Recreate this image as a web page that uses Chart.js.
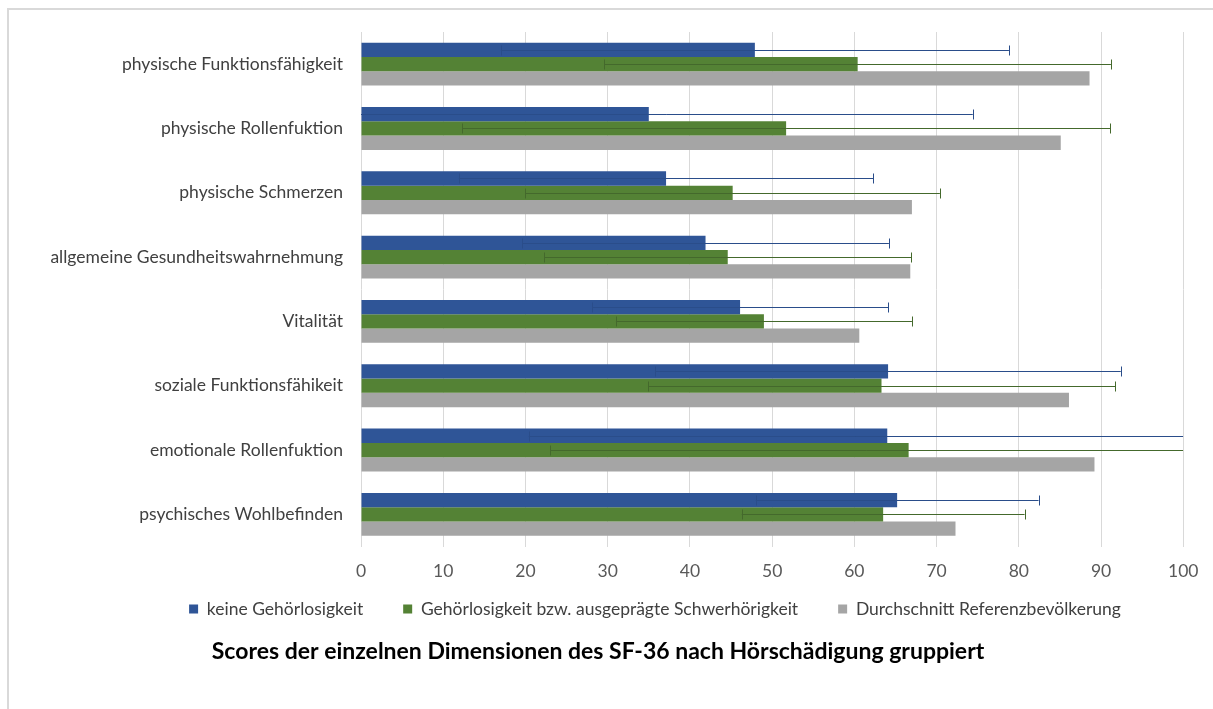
<!DOCTYPE html>
<html><head><meta charset="utf-8">
<script src="https://cdn.jsdelivr.net/npm/chart.js@4.4.0/dist/chart.umd.min.js"></script>
<style>
html,body{margin:0;padding:0;background:#fff;overflow:hidden;width:1213px;height:709px;}
#frame{position:absolute;left:7px;top:8px;width:1400px;height:900px;border-left:2px solid #d9d9d9;border-top:2px solid #d9d9d9;}
#wrap{position:absolute;left:0;top:0;width:1213px;height:709px;}
</style></head><body>
<div id="frame"></div>
<div id="wrap"><canvas id="c" width="1213" height="709"></canvas></div>
<script>
const categories = [
  'physische Funktionsfähigkeit',
  'physische Rollenfuktion',
  'physische Schmerzen',
  'allgemeine Gesundheitswahrnehmung',
  'Vitalität',
  'soziale Funktionsfähikeit',
  'emotionale Rollenfuktion',
  'psychisches Wohlbefinden'
];
const seriesNames = [
  'keine Gehörlosigkeit',
  'Gehörlosigkeit bzw. ausgeprägte Schwerhörigkeit',
  'Durchschnitt Referenzbevölkerung'
];
const keineValues   = [47.9, 35.0, 37.1, 41.9, 46.1, 64.1, 64.0, 65.2];
const keineSD       = [30.9, 39.4, 25.2, 22.3, 18.0, 28.3, 43.6, 17.2];
const gehoerValues  = [60.4, 51.7, 45.2, 44.6, 49.0, 63.3, 66.6, 63.5];
const gehoerSD      = [30.8, 39.4, 25.2, 22.3, 18.0, 28.4, 43.6, 17.2];
const referenzValues = [88.6, 85.1, 67.0, 66.8, 60.6, 86.1, 89.2, 72.3];
const xTicks = [0, 10, 20, 30, 40, 50, 60, 70, 80, 90, 100];
const titleText = 'Scores der einzelnen Dimensionen des SF-36 nach Hörschädigung gruppiert';

const FONT = 'Lato';

const errorBars = {
  id: 'errorBars',
  afterDatasetsDraw(chart) {
    const {ctx, chartArea, scales} = chart;
    const x = scales.x;
    ctx.save();
    ctx.beginPath();
    ctx.rect(chartArea.left, chartArea.top, chartArea.width, chartArea.height);
    ctx.clip();
    chart.data.datasets.forEach((ds, i) => {
      if (!ds.errors) return;
      const meta = chart.getDatasetMeta(i);
      if (meta.hidden) return;
      ctx.strokeStyle = ds.errorColor;
      ctx.lineWidth = 1;
      meta.data.forEach((bar, j) => {
        const v = ds.data[j], e = ds.errors[j];
        const lo = v - e, hi = v + e;
        const xLo = x.getPixelForValue(Math.max(lo, x.min));
        const xHi = x.getPixelForValue(Math.min(hi, x.max));
        const y = Math.round(bar.y) + 0.5;
        const cap = 5;
        ctx.beginPath();
        ctx.moveTo(xLo, y); ctx.lineTo(xHi, y);
        if (lo >= x.min) { const px = Math.round(xLo) + 0.5; ctx.moveTo(px, y - cap); ctx.lineTo(px, y + cap); }
        if (hi <= x.max) { const px = Math.round(xHi) + 0.5; ctx.moveTo(px, y - cap); ctx.lineTo(px, y + cap); }
        ctx.stroke();
      });
    });
    ctx.restore();
  }
};

// move the legend block to where the original chart has it
const legendShift = {
  id: 'legendShift',
  afterLayout(chart) {
    const l = chart.legend;
    if (l) { l.left += 57; l.right += 57; l.top -= 22.25; l.bottom -= 22.25; }
  }
};

function build() {
  new Chart(document.getElementById('c'), {
    type: 'bar',
    data: {
      labels: categories,
      datasets: [
        { label: seriesNames[0], data: keineValues, errors: keineSD, backgroundColor: '#2F5597', errorColor: '#2A4D8A' },
        { label: seriesNames[1], data: gehoerValues, errors: gehoerSD, backgroundColor: '#548235', errorColor: '#44692C' },
        { label: seriesNames[2], data: referenzValues, backgroundColor: '#A5A5A5' }
      ]
    },
    plugins: [errorBars, legendShift],
    options: {
      indexAxis: 'y',
      responsive: false,
      animation: false,
      categoryPercentage: 0.667,
      barPercentage: 1.0,
      layout: { padding: { top: 32, left: 5, right: 22, bottom: 43.2 } },
      scales: {
        x: {
          min: 0, max: 100,
          afterBuildTicks(axis) { axis.ticks = xTicks.map(v => ({ value: v })); },
          afterFit(axis) { axis.height = 36; },
          grid: { color: '#D9D9D9', lineWidth: 1, drawTicks: false },
          border: { display: false },
          ticks: { padding: 14.5, color: '#595959', font: { family: FONT, size: 17.5 } }
        },
        y: {
          afterFit(axis) { axis.width = 356; },
          grid: { display: false, drawTicks: false },
          border: { display: false },
          ticks: { padding: 18, color: '#404040', font: { family: FONT, size: 17.5 } }
        }
      },
      plugins: {
        tooltip: { enabled: false },
        legend: {
          position: 'bottom',
          labels: {
            boxWidth: 9, boxHeight: 9, padding: 40,
            color: '#404040', font: { family: FONT, size: 17.5 }
          }
        },
        title: {
          display: true, position: 'bottom', text: titleText,
          color: '#000000', font: { family: FONT, size: 23, weight: 'bold' },
          padding: { top: -11.8, bottom: 0 }
        }
      }
    }
  });
}
if (document.fonts && document.fonts.load) {
  Promise.all([
    document.fonts.load('17.5px Lato'),
    document.fonts.load('bold 23px Lato')
  ]).then(build, build);
} else { build(); }
</script>
</body></html>
